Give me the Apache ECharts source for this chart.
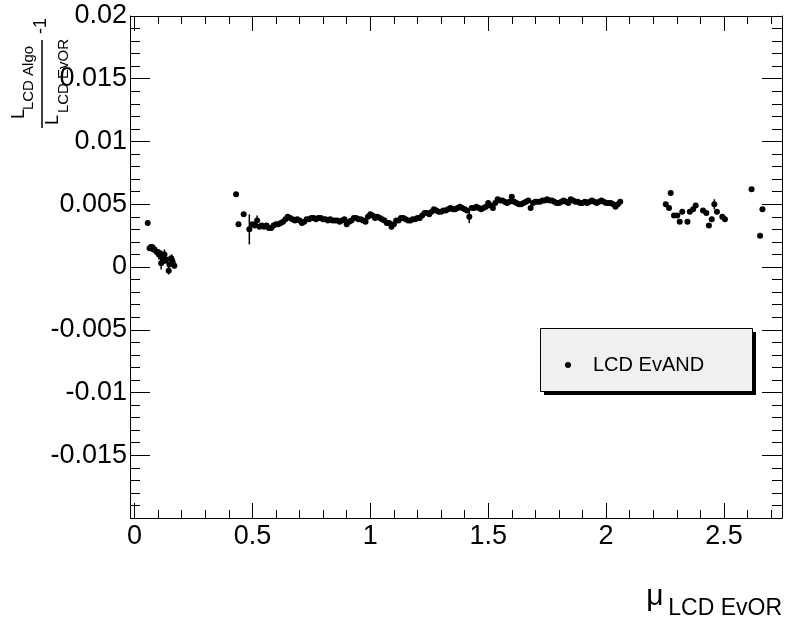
<!DOCTYPE html>
<html><head><meta charset="utf-8">
<script src="https://cdn.jsdelivr.net/npm/echarts@6/dist/echarts.min.js"></script>
<style>html,body{margin:0;padding:0;background:#fff}#c{width:786px;height:625px}</style>
</head><body><div id="c"></div>
<script>
const xTickLabels = ['0','0.5','1','1.5','2','2.5'];
const yTickLabels = ['-0.015','-0.01','-0.005','0','0.005','0.01','0.015','0.02'];
const seriesName = 'LCD EvAND';

const lowPoints = [
  [0.056,0.0035],[0.064,0.0015],[0.070,0.0016],[0.075,0.0016],[0.080,0.0014],[0.085,0.0014],
  [0.094,0.0012],[0.099,0.0012],[0.103,0.0010],[0.109,0.0011],[0.113,0.0003],[0.117,0.0008],
  [0.120,0.0006],[0.123,0.0005],[0.127,0.0010],[0.131,0.0005],[0.134,0.0006],[0.145,-0.0003],
  [0.148,0.0002],[0.155,0.0007],[0.158,0.0006],[0.162,0.0004],[0.169,0.0001]
];
const bandPoints = [
  [0.431,0.0058],[0.441,0.0034],[0.463,0.0042],[0.487,0.0030],
  [0.50,0.0034],[0.51,0.0033],[0.52,0.0037],[0.53,0.0032],[0.54,0.0033],[0.55,0.0032],[0.56,0.0033],
  [0.57,0.0031],[0.58,0.0031],[0.59,0.0033],[0.60,0.0034],[0.61,0.0034],[0.62,0.0035],[0.63,0.0036],
  [0.64,0.0038],[0.65,0.0040],[0.66,0.0039],[0.67,0.0038],[0.68,0.0037],[0.69,0.0038],[0.70,0.0037],
  [0.71,0.0035],[0.72,0.0036],[0.73,0.0038],[0.74,0.0038],[0.75,0.0039],[0.76,0.0039],[0.77,0.0038],
  [0.78,0.0039],[0.79,0.0039],[0.80,0.0038],[0.81,0.0038],[0.82,0.0037],[0.83,0.0038],[0.84,0.0037],
  [0.85,0.0037],[0.86,0.0037],[0.87,0.0036],[0.88,0.0037],[0.89,0.0038],[0.90,0.0034],[0.91,0.0036],
  [0.92,0.0037],[0.93,0.0039],[0.94,0.0039],[0.95,0.0038],[0.96,0.0038],[0.97,0.0037],[0.98,0.0036],
  [0.99,0.0040],[1.00,0.0042],[1.01,0.0041],[1.02,0.0039],[1.03,0.0040],[1.04,0.0039],[1.05,0.0038],
  [1.06,0.0037],[1.07,0.0035],[1.08,0.0035],[1.09,0.0032],[1.10,0.0034],[1.11,0.0037],[1.12,0.0037],
  [1.13,0.0039],[1.14,0.0039],[1.15,0.0038],[1.16,0.0037],[1.17,0.0037],[1.18,0.0038],[1.19,0.0038],
  [1.20,0.0039],[1.21,0.0039],[1.22,0.0041],[1.23,0.0043],[1.24,0.0043],[1.25,0.0042],[1.26,0.0044],
  [1.27,0.0046],[1.28,0.0045],[1.29,0.0044],[1.30,0.0044],[1.31,0.0045],[1.32,0.0045],[1.33,0.0046],
  [1.34,0.0047],[1.35,0.0046],[1.36,0.0046],[1.37,0.0047],[1.38,0.0048],[1.39,0.0047],[1.40,0.0046],
  [1.41,0.0045],[1.42,0.0040],[1.43,0.0047],[1.44,0.0047],[1.45,0.0048],[1.46,0.0047],[1.47,0.0046],
  [1.48,0.0047],[1.49,0.0048],[1.50,0.0051],[1.51,0.0049],[1.52,0.0047],[1.53,0.0051],[1.54,0.0054],
  [1.55,0.0053],[1.56,0.0053],[1.57,0.0052],[1.58,0.0051],[1.59,0.0052],[1.60,0.0056],[1.61,0.0052],
  [1.62,0.0051],[1.63,0.0050],[1.64,0.0050],[1.65,0.0051],[1.66,0.0052],[1.67,0.0053],[1.68,0.0047],
  [1.69,0.0051],[1.70,0.0052],[1.71,0.0052],[1.72,0.0052],[1.73,0.0053],[1.74,0.0053],[1.75,0.0054],
  [1.76,0.0053],[1.77,0.0053],[1.78,0.0052],[1.79,0.0051],[1.80,0.0051],[1.81,0.0052],[1.82,0.0053],
  [1.83,0.0052],[1.84,0.0051],[1.85,0.0054],[1.86,0.0053],[1.87,0.0052],[1.88,0.0052],[1.89,0.0051],
  [1.90,0.0051],[1.91,0.0052],[1.92,0.0051],[1.93,0.0052],[1.94,0.0053],[1.95,0.0052],[1.96,0.0051],
  [1.97,0.0052],[1.98,0.0053],[1.99,0.0052],[2.00,0.0051],[2.01,0.0051],[2.02,0.0051],[2.03,0.0050],
  [2.04,0.0048],[2.05,0.0050],[2.06,0.0052]
];
const highPoints = [
  [2.253,0.0050],[2.267,0.0047],[2.274,0.0059],[2.288,0.0041],[2.302,0.0041],[2.312,0.0036],
  [2.323,0.0044],[2.345,0.0036],[2.355,0.0044],[2.369,0.0046],[2.380,0.0049],[2.411,0.0045],
  [2.425,0.0043],[2.436,0.0033],[2.448,0.0038],[2.459,0.0050],[2.470,0.0044],[2.493,0.0040],
  [2.504,0.0038],[2.617,0.0062],[2.653,0.0025],[2.663,0.0046]
];
// [x, y, error]
const errorBars = [
  [0.056,0.0035,0.0002],[0.064,0.0015,0.0002],[0.085,0.0014,0.0003],[0.103,0.0010,0.0004],
  [0.113,0.0003,0.0005],[0.127,0.0010,0.0004],[0.145,-0.0003,0.0003],[0.158,0.0006,0.0004],
  [0.169,0.0001,0.0002],[0.487,0.0030,0.0012],[0.52,0.0037,0.0004],[1.42,0.0040,0.0005],
  [2.448,0.0038,0.0002],[2.459,0.0050,0.0004]
];

const FONT = 'Liberation Sans, Arial, Helvetica, sans-serif';
const allPoints = lowPoints.concat(bandPoints, highPoints);
const X_MIN = 0, X_MAX = 2.746;
const FRAME_LEFT = 130, GRID_LEFT = 134.5, GRID_RIGHT = 782, GRID_TOP = 16, GRID_BOTTOM = 518;

function fmt(list) {
  return function (v) {
    const s = String(+Number(v).toFixed(4));
    return list.indexOf(s) >= 0 ? s : '';
  };
}
function xAxisDef(pos, interval, len, labels) {
  return {
    type: 'value', position: pos, min: X_MIN, max: X_MAX, interval: interval,
    axisLine: { show: true, onZero: false, lineStyle: { color: '#000', width: 1 } },
    axisTick: { show: true, inside: true, length: len, lineStyle: { color: '#000', width: 1 } },
    axisLabel: labels ? { show: true, formatter: fmt(xTickLabels), fontSize: 27, fontFamily: FONT, color: '#000', margin: 5, hideOverlap: false, showMinLabel: true, showMaxLabel: true } : { show: false },
    splitLine: { show: false }
  };
}
function yAxisDef(pos, labels, offset) {
  return {
    type: 'value', position: pos, offset: offset, min: -0.02, max: 0.02, interval: 0.005,
    axisLine: { show: true, onZero: false, lineStyle: { color: '#000', width: 1 } },
    axisTick: { show: true, inside: true, length: 20, lineStyle: { color: '#000', width: 1 } },
    minorTick: { show: true, splitNumber: 5, length: 10, lineStyle: { color: '#000', width: 1 } },
    axisLabel: labels ? { show: true, formatter: fmt(yTickLabels), fontSize: 27, fontFamily: FONT, color: '#000', margin: 3, hideOverlap: false, showMinLabel: true, showMaxLabel: true } : { show: false },
    splitLine: { show: false }, minorSplitLine: { show: false }
  };
}

const chart = echarts.init(document.getElementById('c'), null, { renderer: 'canvas' });
const rot = Math.PI / 2;
chart.setOption({
  animation: false,
  backgroundColor: '#fff',
  grid: { left: GRID_LEFT, right: 786 - GRID_RIGHT, top: GRID_TOP, bottom: 625 - GRID_BOTTOM, show: false, containLabel: false },
  xAxis: [
    xAxisDef('bottom', 0.1, 8, true),
    xAxisDef('bottom', 0.5, 15, false),
    xAxisDef('top', 0.1, 8, false),
    xAxisDef('top', 0.5, 15, false)
  ],
  yAxis: [yAxisDef('left', true, GRID_LEFT - FRAME_LEFT), yAxisDef('right', false, 0)],
  legend: {
    data: [seriesName], left: 560, top: 350, itemWidth: 6, itemHeight: 6, icon: 'circle', z: 20,
    textStyle: { fontSize: 20, fontFamily: FONT, color: '#000', padding: [0, 0, 0, 17] }
  },
  graphic: [
    { type: 'line', z: 12, shape: { x1: FRAME_LEFT, y1: GRID_TOP + 0.5, x2: GRID_LEFT + 1, y2: GRID_TOP + 0.5 }, style: { stroke: '#000', lineWidth: 1 } },
    { type: 'line', z: 12, shape: { x1: FRAME_LEFT, y1: GRID_BOTTOM + 0.5, x2: GRID_LEFT + 1, y2: GRID_BOTTOM + 0.5 }, style: { stroke: '#000', lineWidth: 1 } },
    { type: 'rect', z: 10, shape: { x: 544, y: 332, width: 212, height: 63 }, style: { fill: '#000' } },
    { type: 'rect', z: 11, shape: { x: 540.5, y: 328.5, width: 212, height: 63 }, style: { fill: '#f0f0f0', stroke: '#000', lineWidth: 1 } },
    { type: 'text', z: 12, x: 19, y: 114, rotation: rot, style: { text: 'L', font: '18px ' + FONT, fill: '#000', align: 'center', verticalAlign: 'middle' } },
    { type: 'text', z: 12, x: 29, y: 78, rotation: rot, style: { text: 'LCD Algo', font: '15px ' + FONT, fill: '#000', align: 'center', verticalAlign: 'middle' } },
    { type: 'line', z: 12, shape: { x1: 42, y1: 40, x2: 42, y2: 128 }, style: { stroke: '#000', lineWidth: 1.5 } },
    { type: 'text', z: 12, x: 53, y: 120, rotation: rot, style: { text: 'L', font: '18px ' + FONT, fill: '#000', align: 'center', verticalAlign: 'middle' } },
    { type: 'text', z: 12, x: 64, y: 76, rotation: rot, style: { text: 'LCD EvOR', font: '15px ' + FONT, fill: '#000', align: 'center', verticalAlign: 'middle' } },
    { type: 'text', z: 12, x: 41, y: 26, rotation: rot, style: { text: '-1', font: '18px ' + FONT, fill: '#000', align: 'center', verticalAlign: 'middle' } },
    { type: 'text', z: 12, x: 655, y: 597, style: { text: 'μ', font: '30px ' + FONT, fill: '#000', align: 'center', verticalAlign: 'middle' } },
    { type: 'text', z: 12, x: 782, y: 609, style: { text: 'LCD EvOR', font: '23px ' + FONT, fill: '#000', align: 'right', verticalAlign: 'middle' } }
  ],
  series: [
    {
      type: 'custom', name: 'errors', xAxisIndex: 0, yAxisIndex: 0, silent: true, z: 3,
      data: errorBars, encode: { x: 0, y: 1 },
      renderItem: function (params, api) {
        const x = api.value(0), y = api.value(1), e = api.value(2);
        const p1 = api.coord([x, y - e]), p2 = api.coord([x, y + e]);
        return { type: 'line', shape: { x1: p1[0], y1: p1[1], x2: p2[0], y2: p2[1] }, style: { stroke: '#000', lineWidth: 1.5 } };
      }
    },
    {
      type: 'scatter', name: seriesName, xAxisIndex: 0, yAxisIndex: 0, z: 4,
      symbol: 'circle', symbolSize: 6, data: allPoints,
      itemStyle: { color: '#000', opacity: 1 }
    }
  ]
});
</script>
</body></html>
